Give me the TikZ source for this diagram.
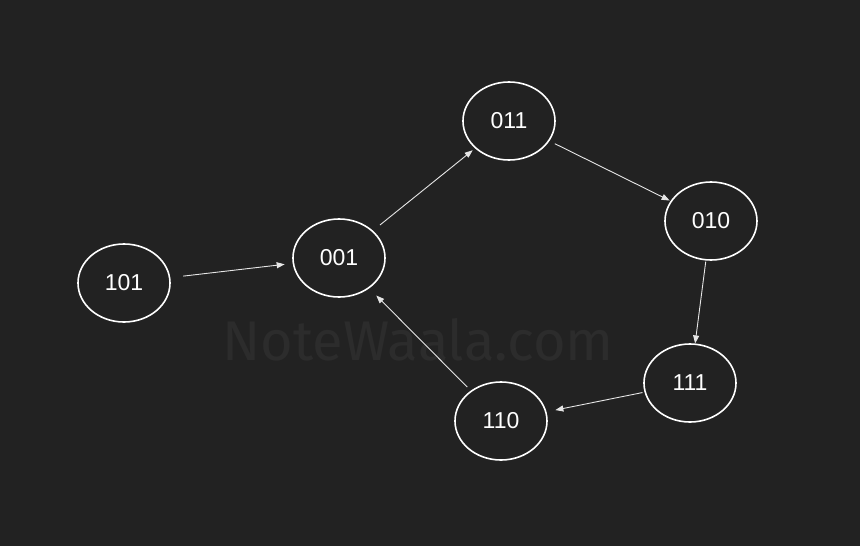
\documentclass[tikz,border=0pt]{standalone}
\usepackage{fontspec}
\setmainfont{Liberation Sans}
\newfontfamily\markfont{Fira Sans}
\usetikzlibrary{shapes.geometric,arrows.meta}
\definecolor{canvas}{HTML}{222222}
\definecolor{edgegray}{HTML}{E6E6E6}
\definecolor{markgray}{HTML}{2C2C2C}
\begin{document}
\begin{tikzpicture}[
        x=1pt, y=-1pt,
        font = \fontsize{23}{27}\selectfont,
        every edge/.style={draw=edgegray, line width=0.9pt, -{Triangle[length=8pt,width=6pt]}}
    ]
    %\usetikzlibrary{shapes.geometric,arrows.meta}

    \tikzstyle{state} = [
        ellipse,
        draw = white,
        line width = 1.6pt,
        minimum width = 92pt,
        minimum height = 78pt,
        inner sep = 0pt,
        text = white
    ]

    \fill [canvas] (0,0) rectangle (860,546);
    \useasboundingbox (0,0) rectangle (860,546);

    % watermark
    \node [markgray, font = \markfont\fontsize{56}{60}\selectfont] (mark) at (418,340) {NoteWaala.com};

    \node [state] (s101) at (124,283) {101};
    \node [state] (s001) at (339,258) {001};
    \node [state] (s011) at (509,121) {011};
    \node [state] (s010) at (711,221) {010};
    \node [state] (s111) at (690,383) {111};
    \node [state] (s110) at (501,421) {110};

    \path (s101) edge [shorten <=13pt, shorten >=8pt] (s001)
          (s001) edge [shorten <=9pt, shorten >=3pt] (s011)
          (s011) edge [shorten <=6pt, shorten >=1pt] (s010)
          (s010) edge [shorten <=1pt, shorten >=0pt] (s111)
          (s111) edge [shorten <=2pt, shorten >=9pt] (s110)
          (s110) edge [shorten <=5pt, shorten >=10pt] (s001);
\end{tikzpicture}
\end{document}
